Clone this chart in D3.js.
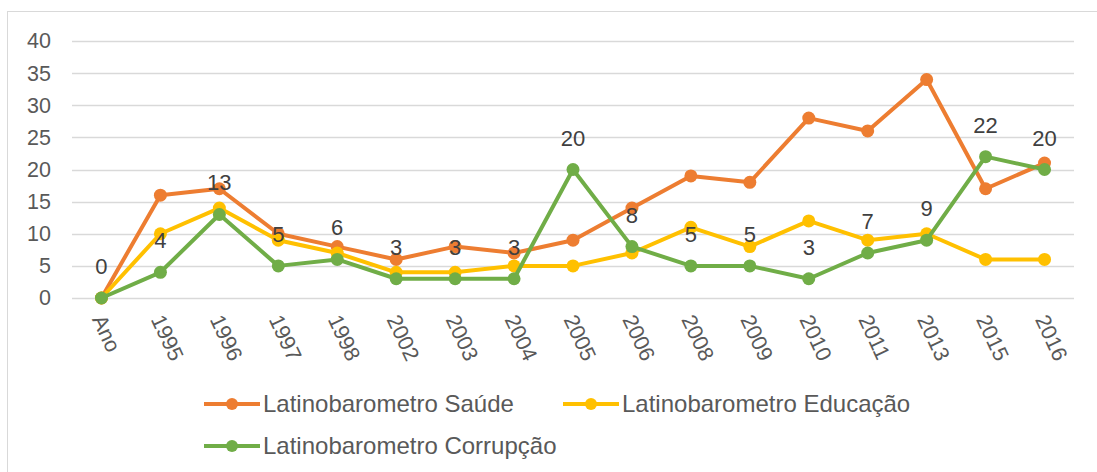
<!DOCTYPE html>
<html>
<head>
<meta charset="utf-8">
<script src="https://cdn.jsdelivr.net/npm/d3@7"></script>
<style>
  body { margin: 0; background: #fff; }
  text { font-family: "Liberation Sans", Arial, sans-serif; }
</style>
</head>
<body>
<div id="chart"></div>
<script>
// Data
const categories = ['Ano', '1995', '1996', '1997', '1998', '2002', '2003', '2004', '2005',
  '2006', '2008', '2009', '2010', '2011', '2013', '2015', '2016'];
const saude = [0, 16, 17, 10, 8, 6, 8, 7, 9, 14, 19, 18, 28, 26, 34, 17, 21];
const educacao = [0, 10, 14, 9, 7, 4, 4, 5, 5, 7, 11, 8, 12, 9, 10, 6, 6];
const corrupcao = [0, 4, 13, 5, 6, 3, 3, 3, 20, 8, 5, 5, 3, 7, 9, 22, 20];
const yTicks = [0, 5, 10, 15, 20, 25, 30, 35, 40];

const series = [
  { name: 'Latinobarometro Saúde', values: saude, color: '#ED7D31' },
  { name: 'Latinobarometro Educação', values: educacao, color: '#FFC000' },
  { name: 'Latinobarometro Corrupção', values: corrupcao, color: '#70AD47' }
];

const W = 1097, H = 472;
const svg = d3.select('#chart').append('svg')
  .attr('width', W).attr('height', H);

// chart frame
svg.append('rect')
  .attr('x', 7.5).attr('y', 11.5)
  .attr('width', W + 10).attr('height', H + 10)
  .attr('fill', 'none').attr('stroke', '#d9d9d9');

const x = d3.scalePoint().domain(categories).range([72, 1074]).padding(0.5);
const y = d3.scaleLinear().domain([0, 40]).range([298, 41]);

// gridlines
svg.append('g')
  .selectAll('line')
  .data(yTicks)
  .join('line')
  .attr('x1', 72).attr('x2', 1074)
  .attr('y1', d => Math.round(y(d)) + 0.5)
  .attr('y2', d => Math.round(y(d)) + 0.5)
  .attr('stroke', '#d9d9d9').attr('stroke-width', 1.3);

// y axis labels
const yAxis = svg.append('g')
  .attr('transform', 'translate(51,0)')
  .call(d3.axisLeft(y).tickValues(yTicks).tickSize(0).tickPadding(0));
yAxis.select('.domain').remove();
yAxis.selectAll('text')
  .attr('fill', '#595959').style('font-size', '21.5px');

// x axis labels, rotated
svg.append('g')
  .selectAll('text')
  .data(categories)
  .join('text')
  .attr('transform', d => `translate(${x(d) - 3},316) rotate(65)`)
  .attr('dy', '0.35em')
  .attr('fill', '#595959')
  .style('font-size', '21.5px')
  .text(d => d);

// lines and markers
const line = d3.line()
  .x((d, i) => x(categories[i]))
  .y(d => y(d));

series.forEach(s => {
  svg.append('path')
    .datum(s.values)
    .attr('d', line)
    .attr('fill', 'none')
    .attr('stroke', s.color)
    .attr('stroke-width', 4)
    .attr('stroke-linejoin', 'round');
  svg.append('g')
    .selectAll('circle')
    .data(s.values)
    .join('circle')
    .attr('cx', (d, i) => x(categories[i]))
    .attr('cy', d => y(d))
    .attr('r', 6.5)
    .attr('fill', s.color);
});

// data labels for Corrupção
svg.append('g')
  .selectAll('text')
  .data(corrupcao)
  .join('text')
  .attr('x', (d, i) => x(categories[i]))
  .attr('y', d => y(d) - 24)
  .attr('text-anchor', 'middle')
  .attr('fill', '#404040')
  .style('font-size', '22px')
  .text(d => d);

// legend
const legendPos = [[204, 404], [563, 404], [204, 446]];
series.forEach((s, i) => {
  const [lx, ly] = legendPos[i];
  const g = svg.append('g').attr('transform', `translate(${lx},${ly})`);
  g.append('line')
    .attr('x1', 0).attr('x2', 56)
    .attr('stroke', s.color).attr('stroke-width', 4);
  g.append('circle').attr('cx', 28).attr('r', 6).attr('fill', s.color);
  g.append('text')
    .attr('x', 59).attr('dy', '0.35em')
    .attr('fill', '#595959')
    .style('font-size', '24px')
    .text(s.name);
});
</script>
</body>
</html>
